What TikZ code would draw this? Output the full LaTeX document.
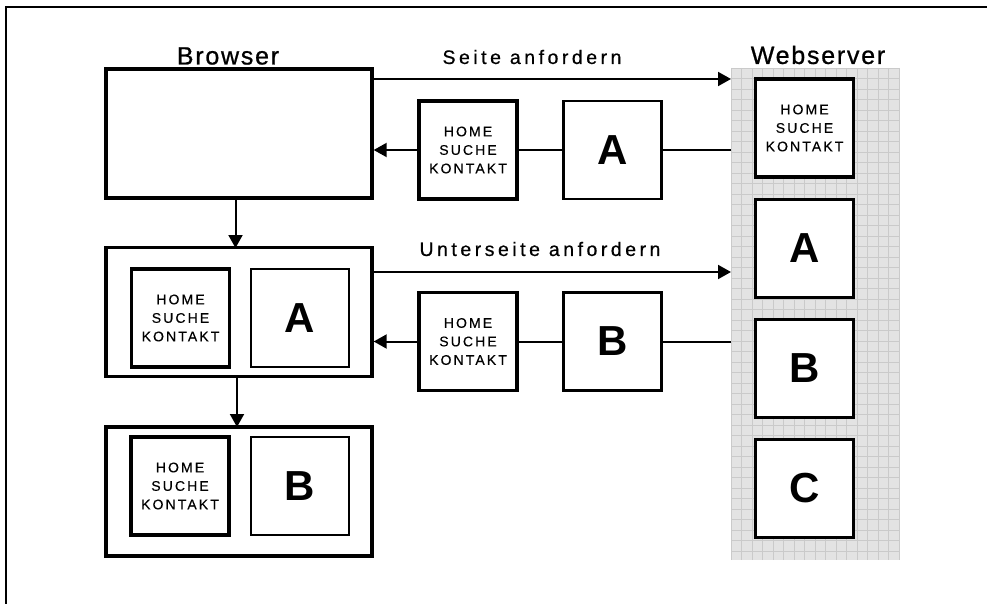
\documentclass[tikz,border=0pt]{standalone}
\usepackage{fontspec}
\setmainfont{Liberation Sans}
\newfontfamily\headfont[LetterSpace=7, FakeBold=0.8]{Liberation Sans}
\newfontfamily\msgfont[LetterSpace=18, FakeBold=0.6]{Liberation Sans}
\newfontfamily\menufont[LetterSpace=15, FakeBold=0.3]{Liberation Sans}
\usetikzlibrary{arrows.meta}
\definecolor{webfill}{HTML}{E3E3E3}
\definecolor{webgrid}{HTML}{CACACA}
\tikzset{
  frameline/.style={line width=2pt, black},
  browserbox/.style={draw, line width=3.4pt, fill=white, inner sep=0pt,
    minimum width=266pt, minimum height=129pt},
  menubox/.style={draw, line width=3.4pt, fill=white, inner sep=0pt,
    minimum width=98pt, minimum height=98pt, align=center,
    font=\menufont\fontsize{14}{18.5}\selectfont},
  pagebox/.style={draw, line width=2.4pt, fill=white, inner sep=0pt,
    minimum width=98pt, minimum height=98pt,
    font=\bfseries\fontsize{42}{42}\selectfont},
  headlabel/.style={inner sep=0pt, font=\headfont\fontsize{25}{25}\selectfont},
  msglabel/.style={inner sep=0pt, font=\msgfont\fontsize{19.5}{19.5}\selectfont},
  flow/.style={line width=2pt},
  flowarrow/.style={flow, -{Triangle[length=13pt,width=14pt]}},
}
\newcommand{\menutext}{HOME\\SUCHE\\KONTAKT}
\begin{document}
\begin{tikzpicture}[x=1pt, y=-1pt]
\useasboundingbox (0,0) rectangle (987,604);
\fill[white] (0,0) rectangle (987,604);
% outer frame (top and left edges)
\draw[frameline] (987,7) -- (6,7) -- (6,604);

% web server storage area with grid pattern
\fill[webfill] (731,68) rectangle (900,560);
\foreach \i in {0,...,16} \draw[webgrid, line width=0.8pt] ({731+\i*10.5},68) -- ({731+\i*10.5},560);
\foreach \j in {0,...,46} \draw[webgrid, line width=0.8pt] (731,{68+\j*10.5}) -- (900,{68+\j*10.5});

% headings
\node[headlabel] (lbrowser) at (228,56) {Browser};
\node[headlabel] (lweb) at (818,55) {Webserver};
\node[msglabel] (lreq1) at (532,57) {Seite anfordern};
\node[msglabel] (lreq2) at (540,249) {Unterseite anfordern};

% browser states
\node[browserbox] (br1) at (239,133.5) {};
\node[browserbox] (br2) at (239,312) {};
\node[browserbox] (br3) at (239,491.5) {};
\node[menubox] (br2m) at (180.5,318) {\menutext};
\node[pagebox] (br2p) at (300,318) {A};
\node[menubox] (br3m) at (180,486) {\menutext};
\node[pagebox] (br3p) at (300,486) {B};

% files on the web server
\node[menubox] (wm) at (804.5,128) {\menutext};
\node[pagebox] (wa) at (804.5,248.5) {A};
\node[pagebox] (wb) at (804.5,368.5) {B};
\node[pagebox] (wc) at (804.5,488.5) {C};

% responses in transit
\node[menubox] (r1m) at (468,150) {\menutext};
\node[pagebox] (r1p) at (612.5,150) {A};
\node[menubox] (r2m) at (468,341.5) {\menutext};
\node[pagebox] (r2p) at (612.5,341.5) {B};

% edge points of the server area
\coordinate (req1) at (731,79);
\coordinate (res1) at (731,150);
\coordinate (req2) at (731,272);
\coordinate (res2) at (731,341.5);

% first request and response
\draw[flowarrow] (br1.east |- req1) -- (req1);
\draw[flow] (res1) -- (r1p.east);
\draw[flow] (r1p.west) -- (r1m.east);
\draw[flowarrow] (r1m.west) -- (br1.east |- r1m.west);

% second request and response
\draw[flowarrow] (br2.east |- req2) -- (req2);
\draw[flow] (res2) -- (r2p.east);
\draw[flow] (r2p.west) -- (r2m.east);
\draw[flowarrow] (r2m.west) -- (br2.east |- r2m.west);

% browser state transitions
\draw[flowarrow] (235.5,198) -- (235.5,248);
\draw[flowarrow] (237,376) -- (237,427);
\end{tikzpicture}
\end{document}
